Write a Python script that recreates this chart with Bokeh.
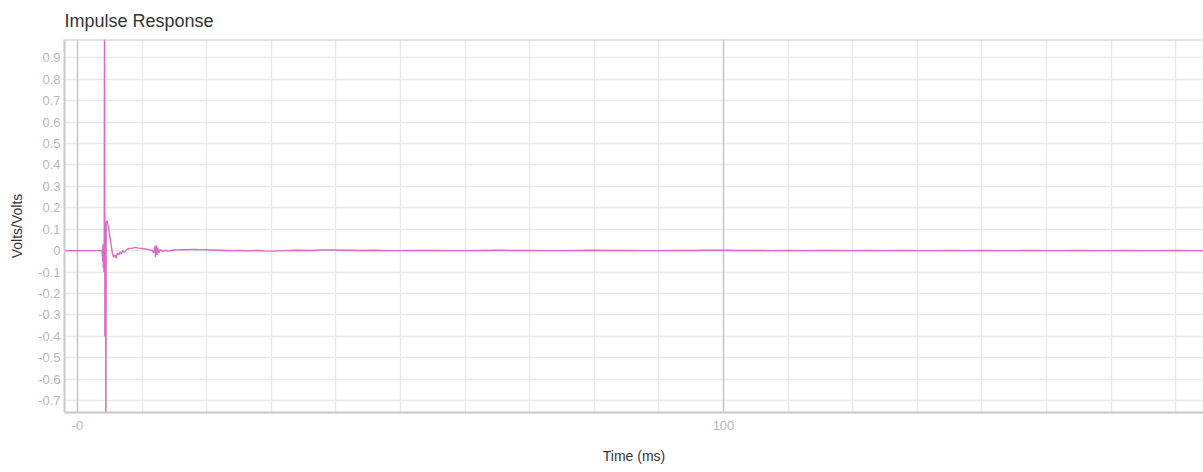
from bokeh.plotting import figure
from bokeh.models import FixedTicker, Grid, Span, ColumnDataSource
from bokeh.embed import file_html
from bokeh.resources import INLINE

# ---- data ----
time_ms = [
    -2.0, 3.8, 3.85, 3.9, 3.95, 4.0, 4.05, 4.1, 4.15, 4.2, 4.25, 4.3, 4.33, 4.36, 4.4,
    4.45, 4.6, 4.8, 5.0, 5.2, 5.4, 5.6, 5.8, 6.0, 6.2, 6.4, 6.6, 6.8, 7.0, 7.3, 7.6,
    8.0, 8.5, 9.0, 9.5, 10.0, 10.5, 11.0, 11.5, 11.8, 12.0, 12.1, 12.2, 12.3, 12.4,
    12.6, 12.8, 13.2, 13.6, 14.0, 15.0, 16.0, 17.0, 18.0, 19.0, 20.0, 21.0, 22.0,
    23.0, 24.0, 25.0, 26.0, 27.0, 28.0, 29.0, 30.0, 32.0, 34.0, 36.0, 38.0, 40.0,
    42.0, 44.0, 46.0, 48.0, 50.0, 52.5, 55.0, 57.5, 60.0, 62.5, 65.0, 67.5, 70.0,
    72.5, 75.0, 77.5, 80.0, 82.5, 85.0, 87.5, 90.0, 92.5, 95.0, 97.5, 100.0, 102.5,
    105.0, 107.5, 110.0, 112.5, 115.0, 117.5, 120.0, 122.5, 125.0, 127.5, 130.0,
    132.5, 135.0, 137.5, 140.0, 142.5, 145.0, 147.5, 150.0, 152.5, 155.0, 157.5,
    160.0, 162.5, 165.0, 167.5, 170.0, 172.5, 175.0,
]
volts = [
    0.0, 0.0, -0.01, -0.05, 0.03, -0.08, 0.02, -0.1, 0.05, 1.3, -0.4, 0.1, -0.35, 0.12, -1.0,
    0.13, 0.14, 0.11, 0.07, 0.03, -0.01, -0.03, -0.02, -0.035, -0.01, -0.02, -0.005, -0.015, 0.0, -0.008, 0.005,
    0.01, 0.012, 0.015, 0.012, 0.01, 0.008, 0.005, 0.002, -0.01, 0.02, -0.03, 0.025, -0.02, 0.015,
    -0.01, 0.005, -0.003, 0.002, -0.002, 0.003, 0.005, 0.004, 0.006, 0.005, 0.004, 0.003, 0.002,
    0.001, 0.0, 0.001, -0.001, 0.0, 0.001, -0.001, -0.002, 0.0, 0.002, 0.001, 0.003, 0.003,
    0.002, 0.001, 0.002, 0.0, 0.0, 0.001, 0.001, 0.0, 0.0, 0.001, 0.002, 0.001, 0.001,
    0.0, 0.0, 0.001, 0.002, 0.001, 0.001, 0.0, 0.0, 0.001, 0.001, 0.002, 0.002, 0.001,
    0.001, 0.0, 0.001, 0.0, 0.001, 0.001, 0.0, 0.001, 0.0, 0.001, 0.0,
    0.0, 0.001, 0.0, 0.001, 0.0, 0.0, 0.001, 0.0, 0.0, 0.001, 0.0,
    0.0, 0.001, 0.0, 0.0, 0.001, 0.0, 0.0,
]
x_ticks = [0, 100]
x_tick_labels = {0: "-0", 100: "100"}
x_minor_grid = [0, 10, 20, 30, 40, 50, 60, 70, 80, 90, 100, 110, 120, 130, 140, 150, 160, 170]
y_ticks = [-0.7, -0.6, -0.5, -0.4, -0.3, -0.2, -0.1, 0.0, 0.1, 0.2, 0.3, 0.4, 0.5, 0.6, 0.7, 0.8, 0.9]
y_tick_labels = {t: ("0" if abs(t) < 1e-9 else f"{t:.1f}") for t in y_ticks}

FONT = "Liberation Sans"
TICK_COLOR = "#b8b8b8"
TEXT_COLOR = "#333333"
LINE_COLOR = "#dc6ac4"

p = figure(
    width=1203, height=472,
    x_range=(-2.0, 174.3), y_range=(-0.755, 0.985),
    output_backend="svg", toolbar_location=None,
    title="Impulse Response",
    min_border_left=64, min_border_right=0, min_border_top=38, min_border_bottom=60,
)
p.title.text_font = FONT
p.title.text_font_size = "18px"
p.title.text_font_style = "normal"
p.title.text_color = TEXT_COLOR
p.title.offset = 0
p.title.standoff = 17
p.outline_line_color = None
p.background_fill_color = "white"
p.border_fill_color = "white"

# x axis
p.xaxis.ticker = FixedTicker(ticks=x_ticks)
p.xaxis.major_label_overrides = x_tick_labels
p.xaxis.axis_label = "Time (ms)"
# y axis
p.yaxis.ticker = FixedTicker(ticks=y_ticks)
p.yaxis.major_label_overrides = y_tick_labels
p.yaxis.axis_label = "Volts/Volts"

for ax in (p.xaxis[0], p.yaxis[0]):
    ax.axis_line_color = "#c8c8c8"
    ax.axis_line_width = 2
    ax.major_tick_line_color = None
    ax.minor_tick_line_color = None
    ax.major_tick_out = 0
    ax.major_tick_in = 0
    ax.major_label_text_font = FONT
    ax.major_label_text_font_size = "13px"
    ax.major_label_text_color = TICK_COLOR
    ax.axis_label_text_font = FONT
    ax.axis_label_text_font_size = "14px"
    ax.axis_label_text_font_style = "normal"
    ax.axis_label_text_color = TEXT_COLOR

p.xaxis.major_label_standoff = 8
p.xaxis.axis_label_standoff = 15
p.yaxis.major_label_standoff = 4
p.yaxis.axis_label_standoff = 10

# grids
p.xgrid.ticker = FixedTicker(ticks=x_minor_grid)
p.xgrid.grid_line_color = "#e8e8e8"
p.xgrid.grid_line_width = 1.5
p.ygrid.ticker = FixedTicker(ticks=y_ticks)
p.ygrid.grid_line_color = "#e8e8e8"
p.ygrid.grid_line_width = 1.5
major_x = Grid(dimension=0, ticker=FixedTicker(ticks=x_ticks),
               grid_line_color="#c8c8c8", grid_line_width=1.5)
p.add_layout(major_x)

# top border
p.add_layout(Span(location=0.985, dimension="width", line_color="#c8c8c8", line_width=2))

src = ColumnDataSource(dict(t=time_ms, v=volts))
p.line("t", "v", source=src, line_color=LINE_COLOR, line_width=1.4)

open("out.html", "w").write(file_html(p, INLINE))
